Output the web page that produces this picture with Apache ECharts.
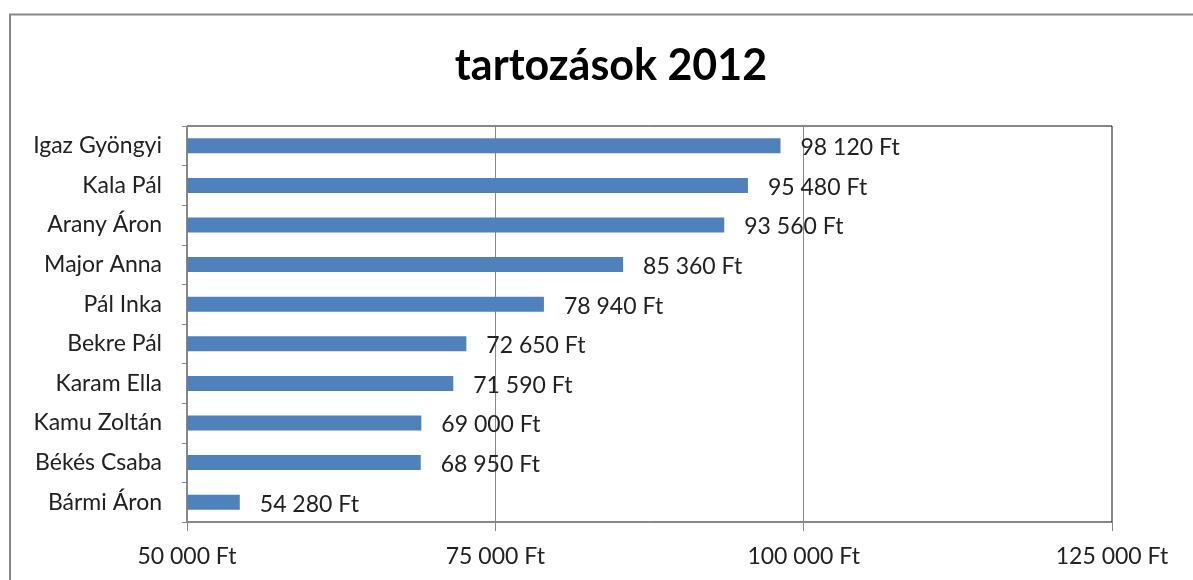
<!DOCTYPE html>
<html>
<head>
<meta charset="utf-8">
<script src="https://cdn.jsdelivr.net/npm/echarts@6/dist/echarts.min.js"></script>
<style>
html,body{margin:0;padding:0;background:#fff;}
#c{width:1193px;height:580px;}
</style>
</head>
<body>
<div id="c"></div>
<script>
const titleText = 'tartozások 2012';
const names = ['Igaz Gyöngyi','Kala Pál','Arany Áron','Major Anna','Pál Inka','Bekre Pál','Karam Ella','Kamu Zoltán','Békés Csaba','Bármi Áron'];
const amounts = [98120,95480,93560,85360,78940,72650,71590,69000,68950,54280];
const axisMin = 50000, axisMax = 125000, axisStep = 25000;

function fmt(v){ return String(v).replace(/\B(?=(\d{3})+(?!\d))/g,' ') + ' Ft'; }
const FONT = 'Lato';

const chart = echarts.init(document.getElementById('c'));
chart.setOption({
  animation:false,
  backgroundColor:'#fff',
  title:{
    text:titleText, left:606, top:40, textAlign:'center',
    textStyle:{fontFamily:FONT,fontSize:43,fontWeight:'bold',color:'#000'}
  },
  graphic:[{
    type:'rect', shape:{x:10,y:14.5,width:1300,height:700},
    style:{fill:null,stroke:'#888',lineWidth:2}, silent:true, z:-1
  }],
  grid:{left:187,right:81,top:126,bottom:58,show:true,borderColor:'#111',borderWidth:1,backgroundColor:'transparent'},
  xAxis:{
    type:'value', min:axisMin, max:axisMax, interval:axisStep,
    axisLine:{show:true,lineStyle:{color:'#888'}},
    axisTick:{show:true,length:9,lineStyle:{color:'#888'}},
    splitLine:{show:true,lineStyle:{color:'#888'}},
    axisLabel:{formatter:fmt,margin:23,fontFamily:FONT,fontSize:23,color:'#222'}
  },
  yAxis:{
    type:'category', data:names, inverse:true,
    axisLine:{show:true,lineStyle:{color:'#888'}},
    axisTick:{show:true,length:5,lineStyle:{color:'#888'}},
    axisLabel:{margin:25,fontFamily:FONT,fontSize:23,color:'#222'}
  },
  series:[{
    type:'bar', data:amounts, barWidth:15,
    itemStyle:{color:'#4F81BD'},
    label:{show:true,position:'right',distance:20,offset:[0,2],formatter:p=>fmt(p.value),fontFamily:FONT,fontSize:23,color:'#222'}
  }]
});
</script>
</body>
</html>
